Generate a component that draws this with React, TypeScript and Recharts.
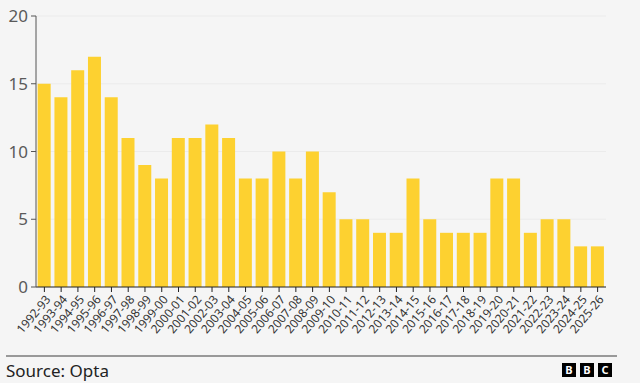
import { BarChart, Bar, CartesianGrid, XAxis, YAxis } from 'recharts';

const seasons = [
  '1992-93', '1993-94', '1994-95', '1995-96', '1996-97', '1997-98', '1998-99', '1999-00',
  '2000-01', '2001-02', '2002-03', '2003-04', '2004-05', '2005-06', '2006-07', '2007-08',
  '2008-09', '2009-10', '2010-11', '2011-12', '2012-13', '2013-14', '2014-15', '2015-16',
  '2016-17', '2017-18', '2018-19', '2019-20', '2020-21', '2021-22', '2022-23', '2023-24',
  '2024-25', '2025-26',
];

const values = [
  15, 14, 16, 17, 14, 11, 9, 8, 11, 11, 12, 11, 8, 8, 10, 8, 10, 7, 5, 5, 4, 4, 8, 5, 4, 4, 4,
  8, 8, 4, 5, 5, 3, 3,
];

const yTicks = [0, 5, 10, 15, 20];

const data = seasons.map((season, i) => ({ season, value: values[i] }));

const font = '"Noto Sans", "Open Sans", Arial, sans-serif';

const SeasonTick = ({ x, y, payload }: any) => (
  <g transform={`translate(${x},${y})`}>
    <text
      x={0}
      y={0}
      dy={9}
      textAnchor="end"
      transform="rotate(-50)"
      fontSize={12}
      fill="#333"
      fontFamily={font}
    >
      {payload.value}
    </text>
  </g>
);

const BbcLogo = () => (
  <div style={{ position: 'absolute', left: 562, top: 363, display: 'flex', gap: 4 }}>
    {['B', 'B', 'C'].map((c, i) => (
      <div
        key={i}
        style={{
          width: 14,
          height: 14,
          background: '#000',
          color: '#fff',
          fontFamily: font,
          fontWeight: 700,
          fontSize: 11,
          lineHeight: '14px',
          textAlign: 'center',
        }}
      >
        {c}
      </div>
    ))}
  </div>
);

const App = () => {
  return (
    <div
      style={{
        position: 'fixed',
        left: 0,
        top: 0,
        width: 640,
        height: 383,
        background: '#f5f5f5',
        fontFamily: font,
      }}
    >
      <BarChart
        width={640}
        height={350}
        data={data}
        margin={{ top: 16, right: 34, bottom: 0, left: 0 }}
      >
        <CartesianGrid vertical={false} stroke="#ebebeb" />
        <XAxis
          dataKey="season"
          interval={0}
          height={63}
          tick={<SeasonTick />}
          tickSize={5}
          tickMargin={2}
          axisLine={{ stroke: '#222' }}
          tickLine={{ stroke: '#222' }}
        />
        <YAxis
          width={36}
          domain={[0, 20]}
          ticks={yTicks}
          tickSize={5}
          tickMargin={3}
          tick={{ fontSize: 17, fill: '#5a5a5a', fontFamily: font }}
          axisLine={{ stroke: '#555' }}
          tickLine={{ stroke: '#555' }}
        />
        <Bar dataKey="value" fill="#fdd130" isAnimationActive={false} />
      </BarChart>
      <div
        style={{
          position: 'absolute',
          left: 6,
          top: 355,
          width: 611,
          height: 2,
          background: '#999',
        }}
      />
      <div
        style={{
          position: 'absolute',
          left: 6,
          top: 360,
          fontSize: 17,
          color: '#222',
          lineHeight: '22px',
        }}
      >
        Source: Opta
      </div>
      <BbcLogo />
    </div>
  );
};

export default App;
